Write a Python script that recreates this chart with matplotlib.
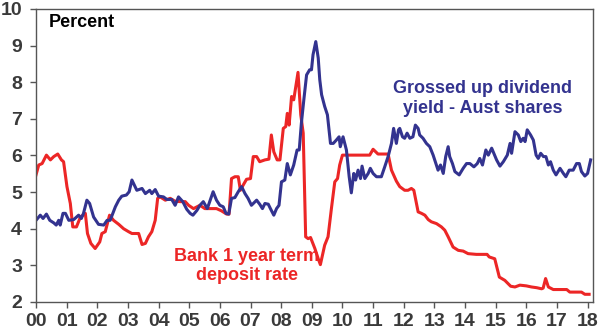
import matplotlib
matplotlib.use('Agg')
import matplotlib.pyplot as plt
import numpy as np

plt.rcParams['font.family'] = ['Liberation Sans', 'DejaVu Sans']

# ---------------- DATA (years since 2000, percent) ----------------
dep_t = [0.00, 0.09, 0.20, 0.34, 0.47, 0.58, 0.71, 0.83, 0.90, 1.01, 1.12, 1.20,
         1.32, 1.45, 1.61, 1.68, 1.79, 1.93, 2.08, 2.15, 2.26, 2.40, 2.53, 2.70,
         2.86, 3.02, 3.13, 3.35, 3.46, 3.57, 3.67, 3.78, 3.89, 3.97, 4.05, 4.22,
         4.38, 4.54, 4.71, 4.87, 4.98, 5.14, 5.35, 5.51, 5.67, 5.89, 6.05, 6.22,
         6.30, 6.38, 6.49, 6.60, 6.67, 6.76, 6.87, 7.00, 7.09, 7.20, 7.30, 7.47,
         7.60, 7.68, 7.76, 7.87, 7.96, 8.07, 8.15, 8.20, 8.26, 8.34, 8.41, 8.55,
         8.64, 8.72, 8.80, 8.88, 8.96, 9.10, 9.21, 9.28, 9.42, 9.53, 9.64, 9.75,
         9.84, 9.91, 10.00, 10.24, 10.89, 11.00, 11.16, 11.38, 11.49, 11.60, 11.76,
         11.87, 12.03, 12.14, 12.25, 12.33, 12.47, 12.58, 12.69, 12.80, 12.90,
         13.07, 13.23, 13.34, 13.45, 13.61, 13.78, 13.94, 14.10, 14.37, 14.72,
         14.79, 14.97, 15.12, 15.30, 15.49, 15.63, 15.79, 16.00, 16.17, 16.34,
         16.50, 16.55, 16.63, 16.72, 16.88, 17.32, 17.42, 17.80, 17.91, 18.05]
dep_v = [5.47, 5.74, 5.78, 6.01, 5.88, 5.97, 6.04, 5.88, 5.83, 5.15, 4.69, 4.05,
         4.05, 4.32, 4.42, 3.87, 3.60, 3.46, 3.64, 3.87, 3.92, 4.37, 4.23, 4.12,
         4.00, 3.92, 3.87, 3.87, 3.57, 3.60, 3.78, 3.92, 4.23, 4.83, 4.87, 4.78,
         4.83, 4.75, 4.74, 4.74, 4.64, 4.55, 4.64, 4.55, 4.55, 4.55, 4.49, 4.40,
         4.40, 5.37, 5.42, 5.42, 5.05, 5.19, 5.35, 5.37, 5.97, 5.97, 5.83, 5.88,
         5.90, 6.56, 6.10, 5.88, 5.88, 6.74, 6.79, 7.15, 6.83, 7.61, 7.52, 8.27,
         7.11, 6.61, 3.78, 3.73, 3.76, 3.46, 3.18, 3.02, 3.55, 3.78, 4.55, 5.28,
         5.37, 5.74, 6.01, 6.01, 6.01, 6.17, 6.04, 6.04, 6.04, 5.60, 5.30,
         5.15, 5.05, 5.05, 5.10, 5.05, 4.46, 4.42, 4.37, 4.25, 4.19,
         4.14, 4.05, 3.96, 3.78, 3.50, 3.41, 3.39, 3.32, 3.30, 3.30,
         3.23, 3.18, 2.68, 2.59, 2.43, 2.41, 2.46, 2.44, 2.41, 2.39,
         2.36, 2.38, 2.64, 2.41, 2.34, 2.34, 2.27, 2.27, 2.21, 2.21]

div_t = [0.00, 0.14, 0.23, 0.34, 0.45, 0.58, 0.66, 0.74, 0.79, 0.88, 0.96, 1.07,
         1.23, 1.39, 1.48, 1.55, 1.66, 1.75, 1.88, 2.04, 2.21, 2.32, 2.42, 2.59,
         2.70, 2.80, 2.95, 3.04, 3.13, 3.29, 3.46, 3.57, 3.71, 3.78, 3.89, 4.00,
         4.16, 4.27, 4.43, 4.54, 4.65, 4.79, 4.92, 5.03, 5.12, 5.25, 5.35, 5.46,
         5.59, 5.78, 5.89, 6.00, 6.11, 6.20, 6.29, 6.38, 6.49, 6.60, 6.71, 6.82,
         6.92, 7.03, 7.20, 7.30, 7.39, 7.47, 7.58, 7.65, 7.76, 7.85, 7.93, 8.01,
         8.12, 8.20, 8.30, 8.41, 8.52, 8.59, 8.66, 8.74, 8.83, 8.93, 8.99, 9.04,
         9.13, 9.21, 9.26, 9.32, 9.42, 9.51, 9.61, 9.70, 9.80, 9.89, 9.93, 10.02,
         10.13, 10.22, 10.29, 10.37, 10.43, 10.51, 10.59, 10.64, 10.73, 10.84,
         10.91, 11.00, 11.11, 11.27, 11.38, 11.49, 11.60, 11.67, 11.76, 11.83,
         11.87, 11.96, 12.03, 12.11, 12.20, 12.30, 12.38, 12.47, 12.52, 12.63,
         12.74, 12.85, 12.96, 13.05, 13.12, 13.20, 13.29, 13.37, 13.45, 13.50,
         13.59, 13.67, 13.81, 13.94, 14.05, 14.16, 14.29, 14.40, 14.48, 14.57,
         14.68, 14.76, 14.87, 14.94, 15.03, 15.14, 15.25, 15.38, 15.47, 15.52,
         15.63, 15.74, 15.82, 15.90, 15.96, 16.03, 16.14, 16.23, 16.32, 16.39,
         16.47, 16.56, 16.64, 16.72, 16.79, 16.88, 16.97, 17.10, 17.21, 17.29,
         17.40, 17.53, 17.64, 17.73, 17.80, 17.91, 18.00, 18.10]
div_v = [4.23, 4.37, 4.28, 4.40, 4.23, 4.16, 4.10, 4.23, 4.10, 4.42, 4.42, 4.23,
         4.25, 4.37, 4.28, 4.42, 4.78, 4.69, 4.32, 4.12, 4.10, 4.23, 4.23, 4.60,
         4.78, 4.89, 4.92, 5.01, 5.33, 5.05, 5.10, 4.96, 5.05, 4.96, 5.07, 4.89,
         4.87, 4.80, 4.80, 4.64, 4.87, 4.74, 4.53, 4.42, 4.37, 4.50, 4.64, 4.74,
         4.55, 5.01, 4.78, 4.64, 4.60, 4.42, 4.40, 4.83, 4.85, 5.01, 5.15, 4.96,
         4.83, 4.64, 4.78, 4.67, 4.55, 4.69, 4.67, 4.55, 4.37, 4.55, 4.64, 5.28,
         5.33, 5.78, 5.47, 5.74, 6.15, 6.15, 6.88, 7.52, 8.20, 8.34, 8.34, 8.75,
         9.11, 8.66, 8.07, 7.66, 7.34, 7.11, 6.33, 6.33, 6.42, 6.51, 6.24, 6.51,
         6.15, 5.42, 4.98, 5.51, 5.33, 5.60, 5.37, 5.71, 5.37, 5.51,
         5.65, 5.51, 5.42, 5.42, 5.69, 5.97, 6.33, 6.74, 6.33, 6.70,
         6.74, 6.51, 6.47, 6.61, 6.47, 6.51, 6.83, 6.74, 6.56, 6.47,
         6.33, 6.24, 6.01, 5.78, 5.60, 5.74, 5.51, 5.97, 6.24, 5.97,
         5.78, 5.56, 5.47, 5.65, 5.78, 5.78, 5.69, 5.78, 5.92, 5.74,
         6.15, 6.01, 6.20, 6.06, 5.88, 5.71, 5.83, 6.01, 6.33, 6.06,
         6.65, 6.56, 6.38, 6.47, 6.38, 6.70, 6.56, 6.42, 6.01, 5.92,
         6.06, 5.97, 5.97, 5.74, 5.83, 5.60, 5.47, 5.65, 5.51, 5.42,
         5.60, 5.60, 5.78, 5.78, 5.56, 5.44, 5.51, 5.88]

year_ticks = list(range(0, 19))
year_labels = ['%02d' % y for y in year_ticks]
pct_ticks = list(range(2, 11))

RED = '#ec2626'
BLUE = '#33338f'
GREY = '#3a3a3a'

# ---------------- PLOT ----------------
fig = plt.figure(figsize=(6.0, 3.32), dpi=100)
ax = fig.add_axes([0.06, 0.0904, 0.928, 0.8825])

ax.plot(dep_t, dep_v, color=RED, lw=2.2, solid_joinstyle='round')
ax.plot(div_t, div_v, color=BLUE, lw=2.2, solid_joinstyle='round')

ax.set_xlim(0, 18.17)
ax.set_ylim(2, 10)
ax.set_xticks(year_ticks)
ax.set_xticklabels(year_labels)
ax.set_yticks(pct_ticks)

for s in ax.spines.values():
    s.set_color('#555555')
    s.set_linewidth(1.0)
ax.tick_params(axis='both', direction='out', length=4, width=1,
               color='#555555', labelcolor=GREY, labelsize=14)
ax.tick_params(axis='x', pad=4)
ax.tick_params(axis='y', pad=6)
for lab in ax.get_xticklabels() + ax.get_yticklabels():
    lab.set_fontweight('bold')

ax.text(0.4, 9.62, 'Percent', fontsize=13, fontweight='bold',
        color='black', ha='left', va='center')
ax.text(14.58, 7.56, 'Grossed up dividend\nyield - Aust shares', fontsize=13,
        fontweight='bold', color=BLUE, ha='center', va='center')
ax.text(6.88, 2.98, 'Bank 1 year term\ndeposit rate', fontsize=13,
        fontweight='bold', color=RED, ha='center', va='center')

fig.savefig('out.png', dpi=100)
